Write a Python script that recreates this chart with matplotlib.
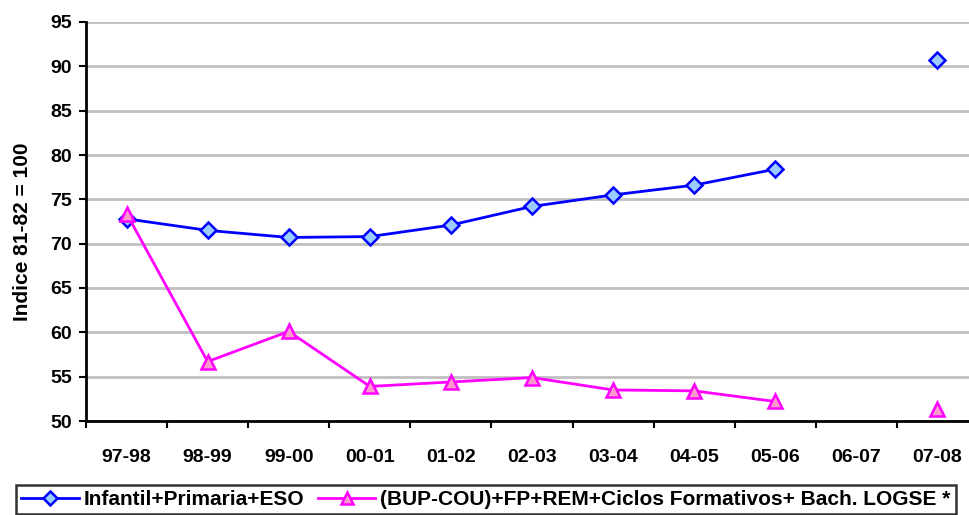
import numpy as np
import matplotlib
matplotlib.use("Agg")
import matplotlib.pyplot as plt

categories = ["97-98", "98-99", "99-00", "00-01", "01-02", "02-03", "03-04", "04-05", "05-06", "06-07", "07-08"]
infantil = [72.8, 71.5, 70.7, 70.8, 72.1, 74.2, 75.5, 76.6, 78.4, np.nan, 90.7]
bup = [73.4, 56.7, 60.1, 53.9, 54.4, 54.9, 53.5, 53.4, 52.2, np.nan, 51.3]
series_names = ["Infantil+Primaria+ESO", "(BUP-COU)+FP+REM+Ciclos Formativos+ Bach. LOGSE *"]
yticks = list(range(50, 96, 5))

plt.rcParams['font.family'] = ['Liberation Sans', 'DejaVu Sans']
plt.rcParams['font.weight'] = 'bold'

fig = plt.figure(figsize=(9.69, 5.15), dpi=100)
ax = fig.add_axes([86/969, 1-421/515, 892/969, 399/515])

x = np.arange(len(categories))
ax.plot(x, infantil, color='#0000ff', lw=2, marker='D', ms=8, mfc='#99ccff', mec='#0000ff', mew=1.8, label=series_names[0], zorder=3, clip_on=False)
ax.plot(x, bup, color='#ff00ff', lw=2, marker='^', ms=10, mfc='#ff99cc', mec='#ff00ff', mew=1.8, label=series_names[1], zorder=3, clip_on=False)

ax.set_xlim(-0.5, len(categories) - 0.5)
ax.set_ylim(50, 95)
ax.set_yticks(yticks)
ax.set_xticks(x)
ax.set_xticklabels(categories, fontsize=14, fontweight='bold')
ax.set_xticks(np.arange(-0.5, len(categories), 1), minor=True)
ax.tick_params(axis='x', which='major', length=0, pad=20)
ax.tick_params(axis='x', which='minor', length=5, width=1.5, direction='out')
ax.tick_params(axis='y', length=5, width=1.5, labelsize=14, pad=5)
for lab in ax.get_yticklabels():
    lab.set_fontweight('bold')
ax.yaxis.grid(True, color='#c0c0c0', lw=2)
ax.set_axisbelow(True)
for s in ['top', 'right']:
    ax.spines[s].set_visible(False)
ax.spines['left'].set_linewidth(2)
ax.spines['bottom'].set_linewidth(2)
ax.set_ylabel("Indice 81-82 = 100", fontsize=15, fontweight='bold')
ax.yaxis.set_label_coords(-0.061, 0.474)

leg = fig.legend(loc='lower left', bbox_to_anchor=(16/969, 1/515),
                 ncol=2, frameon=True, fontsize=15, fancybox=False, edgecolor='black',
                 handlelength=2.75, columnspacing=0.65, handletextpad=0.25, borderpad=0.25,
                 borderaxespad=0.0, markerscale=0.85)
leg.get_frame().set_linewidth(1.8)

fig.savefig("out.png", dpi=100)
